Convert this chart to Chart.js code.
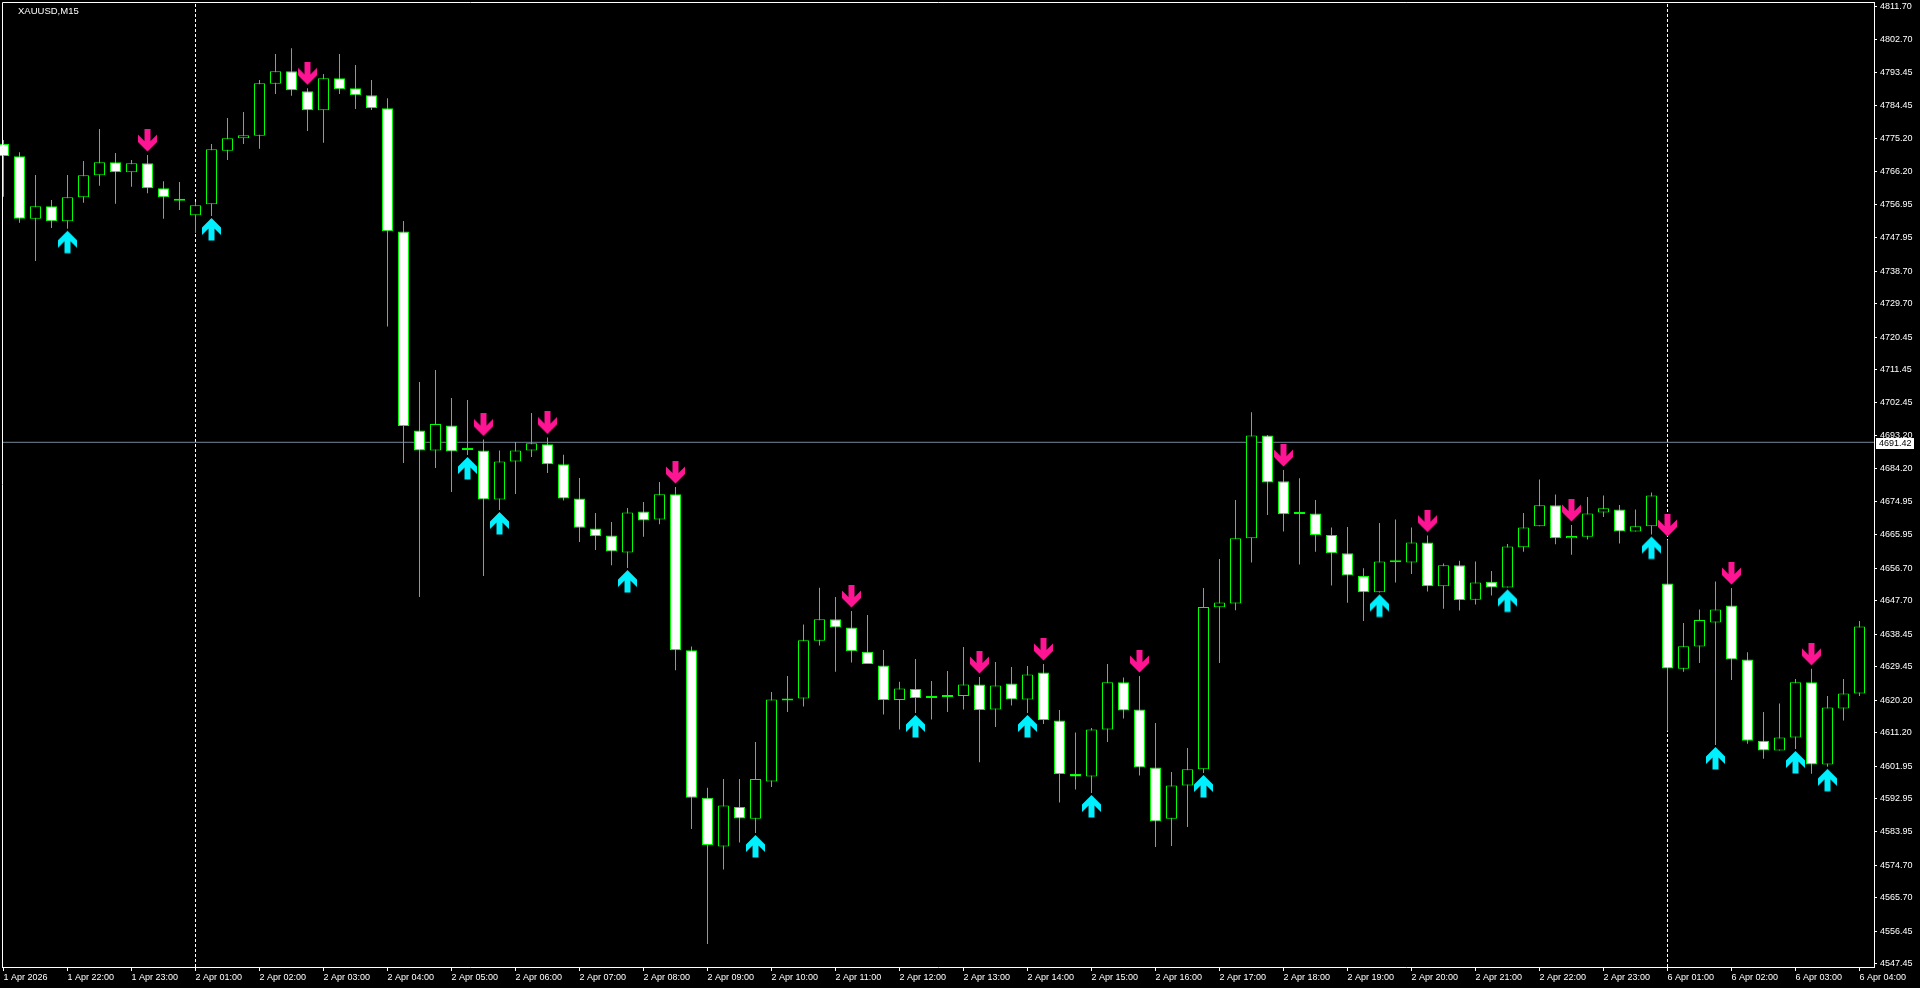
<!DOCTYPE html>
<html><head><meta charset="utf-8">
<script src="https://cdn.jsdelivr.net/npm/chart.js@4.4.1/dist/chart.umd.min.js"></script>
<style>html,body{margin:0;padding:0;background:#000;overflow:hidden}canvas{display:block}</style>
</head><body>
<canvas id="c" width="1920" height="988"></canvas>
<script>
const symbolTitle = 'XAUUSD,M15';

const opens = [
4773.79,4770.39,4753.16,4756.59,4752.45,4759.07,4765.15,4768.74,4765.97,4768.46,
4761.56,4758.13,4754.10,4757.14,4771.94,4775.36,4776.08,4790.44,4793.86,4788.34,
4783.09,4791.93,4789.17,4787.24,4783.65,4749.63,4694.71,4689.19,4696.03,4689.30,
4689.19,4675.60,4686.15,4689.19,4690.90,4685.38,4675.88,4667.59,4665.72,4660.99,
4672.34,4670.08,4677.06,4633.99,4593.26,4579.81,4590.75,4587.46,4597.79,4620.13,
4620.68,4636.64,4642.55,4640.31,4633.60,4629.79,4620.29,4623.30,4620.82,4621.09,
4621.37,4624.52,4617.64,4624.85,4620.40,4627.86,4614.61,4599.83,4599.17,4612.12,
4625.15,4617.61,4601.66,4587.46,4596.68,4601.13,4645.89,4646.91,4664.91,4693.30,
4680.68,4671.65,4671.76,4665.85,4660.80,4654.48,4650.03,4658.29,4658.20,4663.78,
4651.66,4657.46,4647.93,4652.90,4651.36,4662.46,4668.23,4674.05,4664.91,4665.33,
4672.07,4672.89,4666.79,4668.23,4652.41,4628.88,4635.01,4641.64,4646.39,4631.48,
4609.00,4606.32,4609.94,4625.15,4602.48,4617.92,4622.06];

const highs = [
4774.89,4771.50,4765.23,4758.33,4765.23,4769.09,4777.93,4771.30,4769.37,4770.75,
4763.49,4763.30,4757.86,4773.79,4780.97,4782.62,4791.46,4798.64,4800.21,4789.17,
4793.12,4798.64,4795.60,4791.46,4786.41,4752.53,4708.07,4711.39,4703.65,4703.10,
4692.20,4689.19,4691.50,4699.51,4692.75,4688.00,4681.56,4671.90,4669.42,4673.28,
4674.94,4680.46,4679.08,4635.04,4596.02,4598.45,4598.45,4608.67,4622.48,4626.89,
4641.11,4651.25,4648.71,4644.84,4643.74,4634.07,4625.32,4631.59,4625.51,4628.27,
4634.90,4626.62,4630.76,4629.41,4629.65,4630.23,4617.50,4611.29,4612.54,4630.23,
4626.51,4626.89,4613.91,4600.41,4607.04,4651.19,4659.20,4675.49,4699.71,4693.44,
4683.77,4681.51,4675.49,4667.92,4668.03,4656.66,4669.17,4670.10,4667.92,4665.66,
4657.98,4658.70,4658.51,4655.89,4663.37,4671.90,4681.18,4677.04,4668.59,4676.32,
4676.73,4674.14,4672.89,4677.56,4664.45,4641.53,4645.25,4653.01,4651.19,4633.44,
4616.98,4619.27,4626.09,4628.88,4621.37,4626.09,4642.05];

const lows = [
4759.24,4752.06,4741.48,4750.59,4750.40,4757.58,4762.27,4757.30,4762.00,4760.18,
4753.16,4755.56,4749.30,4753.91,4769.37,4773.79,4772.49,4787.59,4787.13,4777.38,
4774.15,4787.59,4783.45,4783.18,4723.42,4685.71,4648.71,4684.33,4677.70,4687.92,
4654.50,4672.73,4677.15,4687.36,4682.95,4675.35,4663.89,4661.68,4657.46,4656.71,
4665.36,4668.78,4628.47,4584.65,4552.89,4573.43,4580.89,4583.54,4596.24,4616.95,
4618.47,4635.31,4628.08,4630.59,4630.21,4616.23,4612.12,4616.68,4614.88,4616.95,
4617.64,4603.06,4612.81,4618.75,4616.68,4613.64,4591.94,4595.55,4594.59,4608.67,
4615.13,4599.39,4579.70,4579.95,4585.20,4600.11,4630.48,4645.04,4658.21,4671.35,
4666.79,4657.68,4661.21,4651.88,4647.10,4642.08,4649.95,4652.71,4655.08,4650.23,
4645.45,4644.95,4646.61,4649.09,4651.33,4661.21,4668.23,4663.28,4660.39,4664.61,
4670.82,4663.48,4666.79,4665.96,4611.82,4628.08,4630.48,4607.84,4625.79,4608.17,
4604.03,4606.32,4606.74,4599.89,4601.80,4614.60,4621.37];

const closes = [
4770.48,4753.16,4756.59,4752.45,4759.07,4765.15,4768.74,4765.97,4768.46,4761.56,
4759.07,4758.13,4756.86,4772.33,4775.36,4776.19,4790.55,4793.86,4788.62,4783.09,
4791.93,4788.89,4787.24,4783.65,4749.68,4695.92,4689.19,4696.48,4688.91,4689.30,
4675.60,4686.15,4689.19,4691.15,4685.38,4675.88,4667.84,4665.47,4661.27,4672.07,
4669.83,4677.06,4633.99,4593.26,4580.23,4591.14,4587.57,4598.45,4620.43,4620.54,
4636.75,4642.55,4640.31,4633.74,4630.21,4620.29,4623.47,4620.82,4620.82,4621.09,
4624.52,4617.53,4624.24,4620.40,4627.34,4614.72,4599.80,4599.17,4612.12,4625.15,
4617.39,4601.66,4586.74,4596.68,4601.13,4645.97,4647.22,4664.91,4693.30,4680.35,
4671.57,4671.65,4665.85,4660.80,4654.67,4650.03,4658.51,4658.29,4663.78,4651.66,
4657.46,4647.85,4652.71,4651.36,4662.65,4667.92,4674.05,4664.91,4665.55,4671.76,
4673.20,4666.79,4668.23,4676.73,4628.99,4635.09,4642.36,4645.25,4631.48,4609.00,
4606.32,4609.94,4625.15,4602.48,4618.22,4622.06,4640.59];

const downArrowIdx = [9,19,30,34,42,53,61,65,71,80,89,98,104,108,113];
const upArrowIdx = [4,13,29,31,39,47,57,64,68,75,86,94,103,107,112,114];

const yTickLabels = ['4811.70','4802.70','4793.45','4784.45','4775.20','4766.20','4756.95','4747.95',
'4738.70','4729.70','4720.45','4711.45','4702.45','4693.20','4684.20','4674.95','4665.95','4656.70',
'4647.70','4638.45','4629.45','4620.20','4611.20','4601.95','4592.95','4583.95','4574.70','4565.70',
'4556.45','4547.45'];

const xTickIdx = [0,4,8,12,16,20,24,28,32,36,40,44,48,52,56,60,64,68,72,76,80,84,88,92,96,100,104,108,112,116];
const xTickLabels = ['1 Apr 2026','1 Apr 22:00','1 Apr 23:00','2 Apr 01:00','2 Apr 02:00','2 Apr 03:00',
'2 Apr 04:00','2 Apr 05:00','2 Apr 06:00','2 Apr 07:00','2 Apr 08:00','2 Apr 09:00','2 Apr 10:00',
'2 Apr 11:00','2 Apr 12:00','2 Apr 13:00','2 Apr 14:00','2 Apr 15:00','2 Apr 16:00','2 Apr 17:00',
'2 Apr 18:00','2 Apr 19:00','2 Apr 20:00','2 Apr 21:00','2 Apr 22:00','2 Apr 23:00','6 Apr 01:00',
'6 Apr 02:00','6 Apr 03:00','6 Apr 04:00'];

const separatorIdx = [12, 104];
const bidPrice = 4691.42;

const yMin = 4546.54, yMax = 4813.00;
const xMin = -0.09375, xMax = 116.90625;

const LIME = '#00ff00';

function arrowCanvas(color, down) {
  const c = document.createElement('canvas');
  c.width = 19; c.height = 52;
  const g = c.getContext('2d');
  const pts = [[6.5,0],[12.5,0],[12.5,12],[19,5.5],[19,13],[9.5,22.5],[0,13],[0,5.5],[6.5,12]];
  g.fillStyle = color;
  g.beginPath();
  pts.forEach(([px, py], i) => {
    const yy = down ? py : 50.5 - py;
    if (i === 0) g.moveTo(px, yy); else g.lineTo(px, yy);
  });
  g.closePath();
  g.fill();
  return c;
}
const downImg = arrowCanvas('#ff1493', true);
const upImg = arrowCanvas('#00f0ff', false);

const idx = opens.map((_, i) => i);
const bodyData = idx.map(i => ({x: i, y: [opens[i], closes[i]]}));
const wickData = idx.map(i => ({x: i, y: [lows[i], highs[i]]}));
const bodyBg = idx.map(i => closes[i] < opens[i] ? '#ffffff' : '#000000');

const decor = {
  id: 'decor',
  beforeDraw(chart) {
    const ctx = chart.ctx;
    ctx.save(); ctx.fillStyle = '#000'; ctx.fillRect(0, 0, chart.width, chart.height); ctx.restore();
  },
  afterDraw(chart) {
    const {ctx, chartArea: a, scales} = chart;
    ctx.save();
    ctx.strokeStyle = '#fff'; ctx.lineWidth = 1;
    ctx.beginPath();
    ctx.moveTo(a.left + 0.5, a.bottom);
    ctx.lineTo(a.left + 0.5, a.top + 0.5);
    ctx.lineTo(a.right + 1, a.top + 0.5);
    ctx.stroke();
    ctx.fillStyle = '#fff';
    ctx.font = '9.5px "Liberation Sans", Arial, sans-serif';
    ctx.textAlign = 'left'; ctx.textBaseline = 'alphabetic';
    ctx.fillText(symbolTitle, 18, 14);
    const y = Math.round(scales.y.getPixelForValue(bidPrice));
    ctx.fillStyle = '#fff';
    ctx.fillRect(a.right + 2, y - 4, 38, 11);
    ctx.fillStyle = '#000';
    ctx.font = '9px "Liberation Sans", Arial, sans-serif';
    ctx.textBaseline = 'middle';
    ctx.fillText(bidPrice.toFixed(2), a.right + 5, y + 1.5);
    ctx.restore();
  }
};

Chart.defaults.font.family = '"Liberation Sans", Arial, sans-serif';
Chart.defaults.font.size = 9;

const datasets = [
  {type: 'scatter', data: downArrowIdx.map(i => ({x: i, y: highs[i]})), pointStyle: downImg, pointRadius: 5, clip: false},
  {type: 'scatter', data: upArrowIdx.map(i => ({x: i, y: lows[i]})), pointStyle: upImg, pointRadius: 5, clip: false},
  {type: 'bar', data: bodyData, backgroundColor: bodyBg, borderColor: LIME, borderWidth: 1,
   borderSkipped: false, grouped: false, maxBarThickness: 11, minBarLength: 2, inflateAmount: 0, clip: false},
  {type: 'bar', data: wickData, backgroundColor: LIME, borderWidth: 0, grouped: false,
   maxBarThickness: 1, inflateAmount: 0, clip: false},
  {type: 'line', data: [{x: xMin, y: bidPrice}, {x: xMax, y: bidPrice}], borderColor: '#778899',
   borderWidth: 1, pointRadius: 0, tension: 0}
];
separatorIdx.forEach(s => datasets.push({type: 'line', data: [{x: s, y: yMin}, {x: s, y: yMax}],
  borderColor: '#ffffff', borderWidth: 1, borderDash: [3, 2], pointRadius: 0}));

new Chart(document.getElementById('c'), {
  type: 'bar',
  data: {datasets},
  options: {
    responsive: false, animation: false, devicePixelRatio: 1, events: [],
    layout: {autoPadding: false, padding: {left: 2, top: 2, right: 0, bottom: 0}},
    plugins: {legend: {display: false}, tooltip: {enabled: false}},
    scales: {
      x: {
        type: 'linear', min: xMin, max: xMax, offset: false, position: 'bottom',
        grid: {display: true, drawOnChartArea: false, drawTicks: true, tickLength: 4, color: '#fff', offset: false},
        border: {display: true, color: '#fff', width: 1},
        ticks: {color: '#fff', font: {size: 9}, align: 'start', maxRotation: 0, minRotation: 0,
                autoSkip: false, padding: 1,
                callback: (v, i) => xTickLabels[i]},
        afterBuildTicks: s => { s.ticks = xTickIdx.map(v => ({value: v})); },
        afterFit: s => { s.height = 21; s.paddingLeft = 0; s.paddingRight = 0; }
      },
      y: {
        type: 'linear', position: 'right', min: yMin, max: yMax, beginAtZero: false,
        grid: {display: true, drawOnChartArea: false, drawTicks: true, tickLength: 3, color: '#fff'},
        border: {display: true, color: '#fff', width: 1},
        ticks: {color: '#fff', font: {size: 9}, padding: 3, autoSkip: false,
                callback: (v, i) => yTickLabels[i]},
        afterBuildTicks: s => { s.ticks = yTickLabels.map(t => ({value: parseFloat(t)})); },
        afterFit: s => { s.width = 46; s.paddingTop = 0; s.paddingBottom = 0; }
      }
    }
  },
  plugins: [decor]
});
</script>
</body></html>
